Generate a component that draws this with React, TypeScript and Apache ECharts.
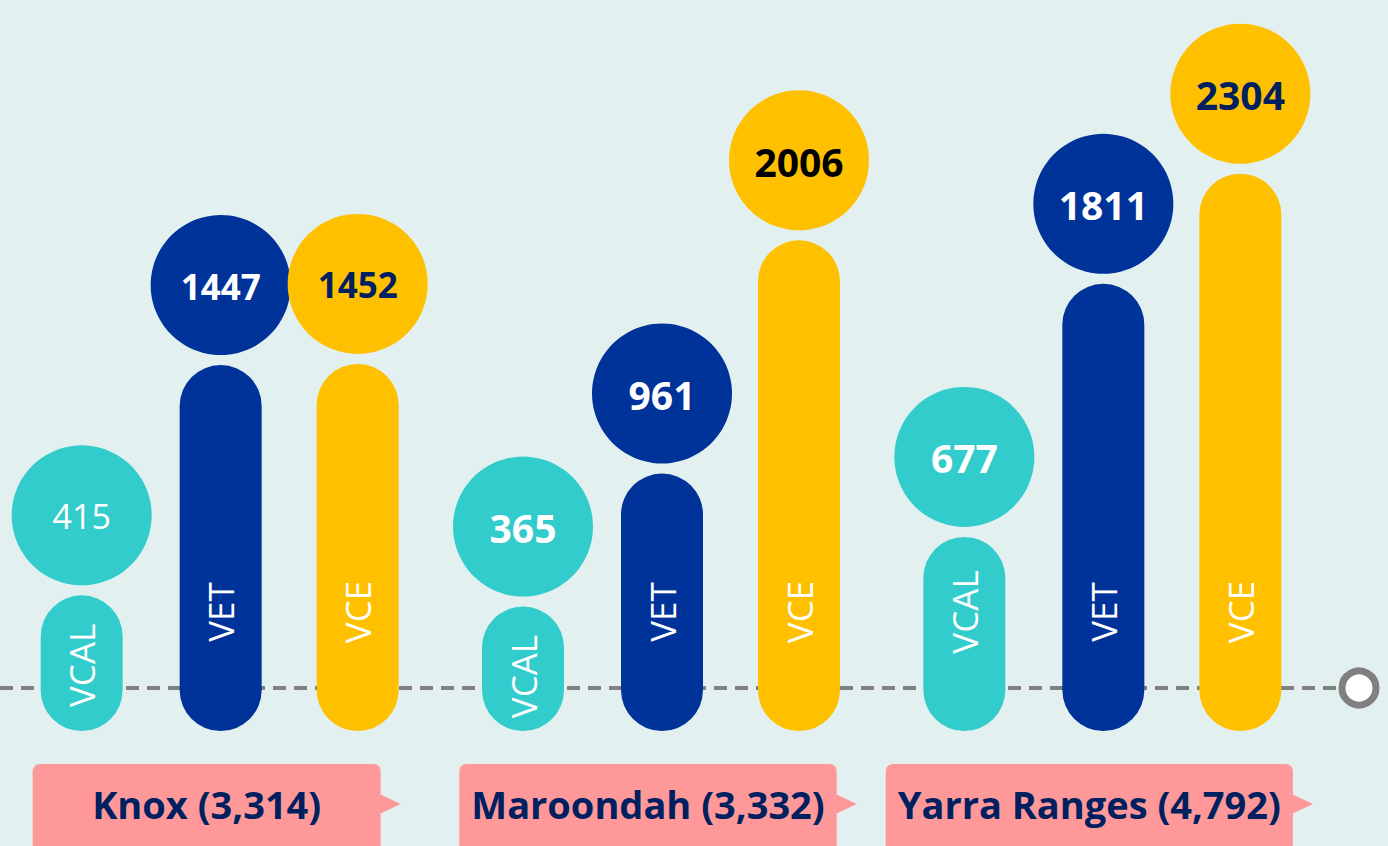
import React, { useEffect, useRef } from "react";
import * as echarts from "echarts";

// ---- data ----
const districts = ["Knox", "Maroondah", "Yarra Ranges"];
const qualifications = ["VCAL", "VET", "VCE"];
const vcal = [415, 365, 677];
const vet = [1447, 961, 1811];
const vce = [1452, 2006, 2304];

// ---- styles ----
const FONT = '"Open Sans", "Noto Sans", sans-serif';
const BG = "#E2F0F0";
const NAVY_TEXT = "#002060";
const QUAL_COLORS: Record<string, string> = { VCAL: "#33CCCC", VET: "#003399", VCE: "#FFC000" };
const NUMBER_COLORS: Record<string, string> = { VCAL: "#FFFFFF", VET: "#FFFFFF", VCE: NAVY_TEXT };
const NUMBER_OVERRIDES: Record<string, { fill?: string; fontWeight?: string; fontSize?: number }> = {
  "Knox-VCAL": { fontWeight: "normal", fontSize: 34 },
  "Knox-VET": { fontSize: 35 },
  "Knox-VCE": { fontSize: 35 },
  "Maroondah-VCE": { fill: "#000000" },
};
const SERIES_OFFSETS = [-139, 0, 137];
const PILL_R = 41;
const BUBBLE_R = 70;
const BUBBLE_GAP = 80;

const measure = (() => {
  let ctx: CanvasRenderingContext2D | null = null;
  return (text: string, font: string) => {
    if (!ctx) ctx = document.createElement("canvas").getContext("2d");
    if (!ctx) return text.length * 18;
    ctx.font = font;
    return ctx.measureText(text).width;
  };
})();

function qualRender(qIdx: number) {
  const qual = qualifications[qIdx];
  const color = QUAL_COLORS[qual];
  return (params: any, api: any) => {
    const ci = api.value(0);
    const v = api.value(1);
    const top = api.coord([ci, v]);
    const base = api.coord([ci, 0]);
    const x = top[0] + SERIES_OFFSETS[qIdx];
    const yTop = top[1];
    const yBase = base[1];
    const cy = yTop - BUBBLE_GAP;
    const labelY = Math.max(yBase - 76, yTop + 70);
    const ov = NUMBER_OVERRIDES[`${districts[ci]}-${qual}`] || {};
    return {
      type: "group",
      children: [
        {
          type: "rect",
          shape: { x: x - PILL_R, y: yTop, width: PILL_R * 2, height: yBase + 43 - yTop, r: PILL_R },
          style: { fill: color },
        },
        {
          type: "circle",
          shape: { cx: x, cy, r: BUBBLE_R },
          style: { fill: color },
        },
        {
          type: "text",
          x,
          y: cy + 1,
          style: {
            text: String(v),
            fill: ov.fill || NUMBER_COLORS[qual],
            fontFamily: FONT,
            fontSize: ov.fontSize || 39,
            fontWeight: ov.fontWeight || "bold",
            align: "center",
            verticalAlign: "middle",
          },
        },
        {
          type: "text",
          x,
          y: labelY,
          rotation: Math.PI / 2,
          style: {
            text: qual,
            fill: "#FFFFFF",
            fontFamily: FONT,
            fontSize: 35,
            align: "center",
            verticalAlign: "middle",
          },
        },
      ],
    };
  };
}

function districtRender(params: any, api: any) {
  const ci = api.value(0);
  const total = api.value(1);
  const p = api.coord([ci, 0]);
  const cx = p[0] - 14;
  const yBase = p[1];
  const text = `${districts[ci]} (${Number(total).toLocaleString("en-US")})`;
  const font = `bold 38px ${FONT}`;
  const w = measure(text, font);
  const boxW = Math.max(w + 24, 348);
  const boxTop = yBase + 76;
  const boxH = 90;
  const midY = boxTop + 40;
  const right = cx + boxW / 2;
  return {
    type: "group",
    children: [
      {
        type: "rect",
        shape: { x: cx - boxW / 2, y: boxTop, width: boxW, height: boxH, r: 7 },
        style: { fill: "#FF9999" },
      },
      {
        type: "polygon",
        shape: { points: [[right - 1, midY - 10], [right + 20, midY], [right - 1, midY + 10]] },
        style: { fill: "#FF9999" },
      },
      {
        type: "text",
        x: cx,
        y: midY,
        style: {
          text,
          fill: NAVY_TEXT,
          fontFamily: FONT,
          fontSize: 38,
          fontWeight: "bold",
          align: "center",
          verticalAlign: "middle",
        },
      },
    ],
  };
}

export default function App() {
  const ref = useRef<HTMLDivElement>(null);
  useEffect(() => {
    document.body.style.margin = "0";
    if (!ref.current) return;
    const chart = echarts.init(ref.current, null, { renderer: "svg" });
    const series = [vcal, vet, vce];
    const totals = districts.map((_, i) => vcal[i] + vet[i] + vce[i]);
    chart.setOption({
      animation: false,
      backgroundColor: BG,
      grid: { left: -8, right: 64, top: 130, bottom: 158 },
      xAxis: {
        type: "category",
        data: districts,
        show: false,
      },
      yAxis: { type: "value", min: 0, max: 2500, show: false },
      series: [
        ...series.map((vals, qi) => ({
          type: "custom",
          name: qualifications[qi],
          z: 5,
          clip: false,
          renderItem: qualRender(qi),
          data: vals.map((v, i) => [i, v]),
        })),
        {
          type: "custom",
          name: "districts",
          z: 5,
          clip: false,
          renderItem: districtRender,
          data: totals.map((t, i) => [i, t]),
        },
      ],
    });
    const y0 = (chart.convertToPixel({ gridIndex: 0 }, [0, 0]) as number[])[1];
    chart.setOption({
      graphic: [
        {
          type: "line",
          z: 1,
          shape: { x1: 0, y1: y0, x2: 1342, y2: y0 },
          style: { stroke: "#808080", lineWidth: 4, lineDash: [13, 8] },
        },
        {
          type: "circle",
          z: 1,
          shape: { cx: 1359, cy: y0, r: 17 },
          style: { fill: "#FFFFFF", stroke: "#808080", lineWidth: 7 },
        },
      ],
    });
    return () => chart.dispose();
  }, []);
  return <div ref={ref} style={{ width: 1388, height: 846 }} />;
}
